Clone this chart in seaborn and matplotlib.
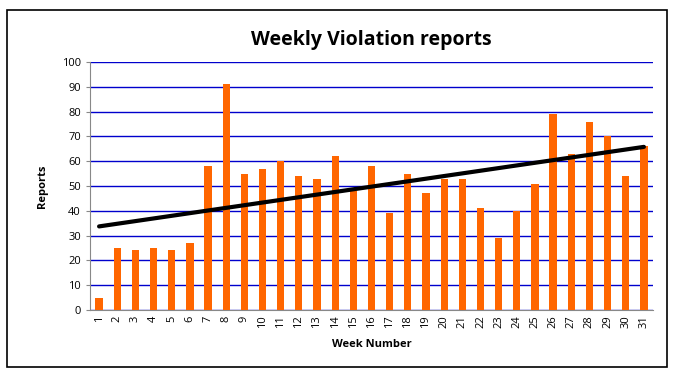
import numpy as np
import pandas as pd
import matplotlib
matplotlib.use("Agg")
import matplotlib.pyplot as plt
import matplotlib.patches as mpatches
import seaborn as sns

# %% Datos
semanas = list(range(1, 32))
reportes = [5, 25, 24, 25, 24, 27, 58, 91, 55, 57, 60, 54, 53, 62, 48, 58,
            39, 55, 47, 53, 53, 41, 29, 40, 51, 79, 63, 76, 70, 54, 66]
y_ticks = list(range(0, 101, 10))

df = pd.DataFrame({'Semana': [str(s) for s in semanas], 'Reportes': reportes})

# %% Gráfico
sns.set_style('white')
plt.rcParams['font.family'] = ['Open Sans', 'DejaVu Sans']
plt.rcParams['text.color'] = 'black'
plt.rcParams['axes.labelcolor'] = 'black'

fig = plt.figure(figsize=(6.74, 3.77), dpi=100)
ax = fig.add_axes([90/674, 67/377, (653-90)/674, (310-62)/377])

# Borde exterior del gráfico
fig.patches.append(mpatches.Rectangle((7/674, 10/377), 660/674, 357/377,
                                      transform=fig.transFigure, fill=False,
                                      edgecolor='black', linewidth=1.2))

sns.barplot(data=df, x='Semana', y='Reportes', color='#FF6600', width=0.4,
            saturation=1, linewidth=0, ax=ax, zorder=3)

# Línea de tendencia lineal
pos = np.arange(len(semanas))
m, b = np.polyfit(semanas, reportes, 1)
ax.plot(pos, m * np.array(semanas) + b, color='black', linewidth=3, zorder=4)

ax.set_ylim(0, 100)
ax.set_xlim(-0.5, len(semanas) - 0.5)
ax.set_yticks(y_ticks)
ax.yaxis.grid(True, color='#0000CC', linewidth=1)
ax.set_axisbelow(True)

ax.set_xticks(pos)
ax.set_xticklabels([str(s) for s in semanas], rotation=90, fontsize=8)
ax.set_xticks(np.arange(-0.5, len(semanas)), minor=True)
ax.tick_params(axis='x', which='major', length=0, pad=4, labelcolor='black')
ax.tick_params(axis='x', which='minor', length=4, color='#888888', direction='out')
ax.tick_params(axis='y', labelsize=8, length=3, color='#888888', left=True,
               labelcolor='black')

for lado in ['top', 'right']:
    ax.spines[lado].set_visible(False)
for lado in ['left', 'bottom']:
    ax.spines[lado].set_color('#888888')

ax.set_title('Weekly Violation reports', fontsize=14, fontweight='bold', pad=12,
             color='black')
ax.set_xlabel('Week Number', fontsize=8, fontweight='bold', labelpad=8)
ax.set_ylabel('Reports', fontsize=8, fontweight='bold', labelpad=10)

fig.savefig('out.png', dpi=100)
